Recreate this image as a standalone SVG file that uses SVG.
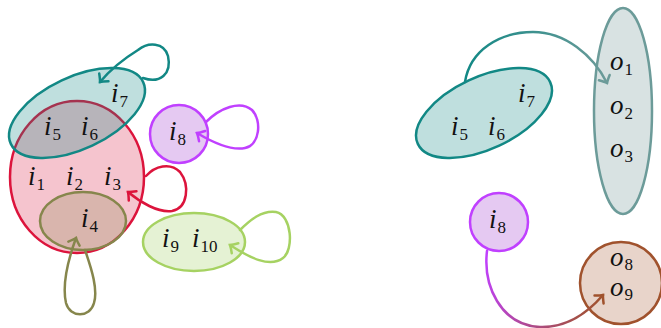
<svg xmlns="http://www.w3.org/2000/svg" width="661" height="328" viewBox="0 0 661 328">
<style>
.m{font-family:"Liberation Serif","DejaVu Serif",serif;font-style:italic;font-size:27px;fill:#111}
.s{font-style:normal;font-size:17px}
.c{fill:none;stroke-width:2.5;stroke-linecap:round}
.n{stroke-width:2.5}
</style>
<defs>
<marker id="a-teal" viewBox="-8 -8 10 16" refX="0" refY="0" markerWidth="10" markerHeight="16" markerUnits="userSpaceOnUse" orient="auto" overflow="visible"><path d="M-6,-6 Q-2,-1.5 0,0 Q-2,1.5 -6,6" fill="none" stroke="#128885" stroke-width="2.5" stroke-linecap="round"/></marker>
<marker id="a-red" viewBox="-8 -8 10 16" refX="0" refY="0" markerWidth="10" markerHeight="16" markerUnits="userSpaceOnUse" orient="auto" overflow="visible"><path d="M-6,-6 Q-2,-1.5 0,0 Q-2,1.5 -6,6" fill="none" stroke="#dc143c" stroke-width="2.5" stroke-linecap="round"/></marker>
<marker id="a-olive" viewBox="-8 -8 10 16" refX="0" refY="0" markerWidth="10" markerHeight="16" markerUnits="userSpaceOnUse" orient="auto" overflow="visible"><path d="M-6,-6 Q-2,-1.5 0,0 Q-2,1.5 -6,6" fill="none" stroke="#86864c" stroke-width="2.5" stroke-linecap="round"/></marker>
<marker id="a-purple" viewBox="-8 -8 10 16" refX="0" refY="0" markerWidth="10" markerHeight="16" markerUnits="userSpaceOnUse" orient="auto" overflow="visible"><path d="M-6,-6 Q-2,-1.5 0,0 Q-2,1.5 -6,6" fill="none" stroke="#c040ff" stroke-width="2.5" stroke-linecap="round"/></marker>
<marker id="a-green" viewBox="-8 -8 10 16" refX="0" refY="0" markerWidth="10" markerHeight="16" markerUnits="userSpaceOnUse" orient="auto" overflow="visible"><path d="M-6,-6 Q-2,-1.5 0,0 Q-2,1.5 -6,6" fill="none" stroke="#a6d262" stroke-width="2.5" stroke-linecap="round"/></marker>
<marker id="a-gray" viewBox="-8 -8 10 16" refX="0" refY="0" markerWidth="10" markerHeight="16" markerUnits="userSpaceOnUse" orient="auto" overflow="visible"><path d="M-6,-6 Q-2,-1.5 0,0 Q-2,1.5 -6,6" fill="none" stroke="#6c9b99" stroke-width="2.5" stroke-linecap="round"/></marker>
<marker id="a-brown" viewBox="-8 -8 10 16" refX="0" refY="0" markerWidth="10" markerHeight="16" markerUnits="userSpaceOnUse" orient="auto" overflow="visible"><path d="M-6,-6 Q-2,-1.5 0,0 Q-2,1.5 -6,6" fill="none" stroke="#a0522d" stroke-width="2.5" stroke-linecap="round"/></marker>
<linearGradient id="g-to" gradientUnits="userSpaceOnUse" x1="465" y1="82" x2="607" y2="83"><stop offset="0" stop-color="#128885"/><stop offset="1" stop-color="#6c9b99"/></linearGradient>
<linearGradient id="g-io" gradientUnits="userSpaceOnUse" x1="487" y1="251" x2="603" y2="295"><stop offset="0" stop-color="#c040ff"/><stop offset="1" stop-color="#a0522d"/></linearGradient>
</defs>

<g id="node-i123">
<ellipse class="n" cx="77" cy="177" rx="67" ry="76" fill="#f5c4ce" stroke="#dc143c"/>
<text class="m" x="28" y="185">i<tspan class="s" dx="1" dy="5">1</tspan></text>
<text class="m" x="66" y="185">i<tspan class="s" dx="1" dy="5">2</tspan></text>
<text class="m" x="104" y="185">i<tspan class="s" dx="1" dy="5">3</tspan></text>
</g>
<g id="node-i4">
<ellipse class="n" cx="83" cy="221" rx="43" ry="29" fill="#86864c" fill-opacity="0.25" stroke="#86864c"/>
<text class="m" x="81" y="227">i<tspan class="s" dx="1" dy="5">4</tspan></text>
</g>
<g id="node-i567">
<ellipse class="n" cx="0" cy="0" rx="73" ry="36" transform="translate(77 113) rotate(-25)" fill="#128885" fill-opacity="0.27" stroke="#128885"/>
<text class="m" x="44" y="135">i<tspan class="s" dx="1" dy="5">5</tspan></text>
<text class="m" x="81" y="135">i<tspan class="s" dx="1" dy="5">6</tspan></text>
<text class="m" x="111" y="102">i<tspan class="s" dx="1" dy="5">7</tspan></text>
</g>
<g id="node-i8">
<circle class="n" cx="179" cy="134" r="29" fill="#e5c9f2" stroke="#c040ff"/>
<text class="m" x="169" y="140">i<tspan class="s" dx="1" dy="5">8</tspan></text>
</g>
<g id="node-i910">
<ellipse class="n" cx="194" cy="242" rx="51" ry="29" fill="#e5f2d4" stroke="#a6d262"/>
<text class="m" x="162" y="247">i<tspan class="s" dx="1" dy="5">9</tspan></text>
<text class="m" x="192" y="247">i<tspan class="s" dx="1" dy="5">10</tspan></text>
</g>

<g id="node-r-i567">
<ellipse class="n" cx="0" cy="0" rx="73" ry="36" transform="translate(484 113) rotate(-25)" fill="#128885" fill-opacity="0.27" stroke="#128885"/>
<text class="m" x="451" y="135">i<tspan class="s" dx="1" dy="5">5</tspan></text>
<text class="m" x="488" y="135">i<tspan class="s" dx="1" dy="5">6</tspan></text>
<text class="m" x="518" y="102">i<tspan class="s" dx="1" dy="5">7</tspan></text>
</g>
<g id="node-r-i8">
<circle class="n" cx="499" cy="222" r="29" fill="#e5c9f2" stroke="#c040ff"/>
<text class="m" x="489" y="228">i<tspan class="s" dx="1" dy="5">8</tspan></text>
</g>
<g id="node-o123">
<ellipse class="n" cx="623" cy="111" rx="29" ry="103" fill="#d8e2e2" stroke="#6c9b99"/>
<text class="m" x="610" y="70">o<tspan class="s" dx="1" dy="5">1</tspan></text>
<text class="m" x="610" y="114">o<tspan class="s" dx="1" dy="5">2</tspan></text>
<text class="m" x="610" y="157">o<tspan class="s" dx="1" dy="5">3</tspan></text>
</g>
<g id="node-o89">
<circle class="n" cx="621" cy="283" r="41" fill="#e8d4ca" stroke="#a0522d"/>
<text class="m" x="610" y="266">o<tspan class="s" dx="1" dy="4">8</tspan></text>
<text class="m" x="610" y="296">o<tspan class="s" dx="1" dy="4">9</tspan></text>
</g>

<g id="connectors">
<path class="c" stroke="#128885" marker-end="url(#a-teal)" d="M143,78 C160,84 172,74 168,56 C164,42 148,42 138,50 C125,58 110,70 100,82"/>
<path class="c" stroke="#c040ff" marker-end="url(#a-purple)" d="M206,122 C220,108 240,100 252,110 C262,120 260,145 245,148 C230,151 212,142 197,133"/>
<path class="c" stroke="#dc143c" marker-end="url(#a-red)" d="M146,176 C155,166 170,162 180,172 C190,185 188,208 172,211 C158,213 140,202 128,192"/>
<path class="c" stroke="#a6d262" marker-end="url(#a-green)" d="M240,230 C250,220 262,210 276,212 C292,215 294,250 283,258 C270,268 250,258 230,245"/>
<path class="c" stroke="#86864c" marker-end="url(#a-olive)" d="M85,250 C92,270 98,290 94,303 C90,318 70,318 66,303 C62,285 68,260 76,238"/>
<path class="c" stroke="url(#g-to)" marker-end="url(#a-gray)" d="M465,82 C470,50 500,32 533,32 C565,32 593,55 607,83"/>
<path class="c" stroke="url(#g-io)" marker-end="url(#a-brown)" d="M487,251 C483,285 500,325 540,327 C570,328 590,310 603,295"/>
</g>
</svg>
